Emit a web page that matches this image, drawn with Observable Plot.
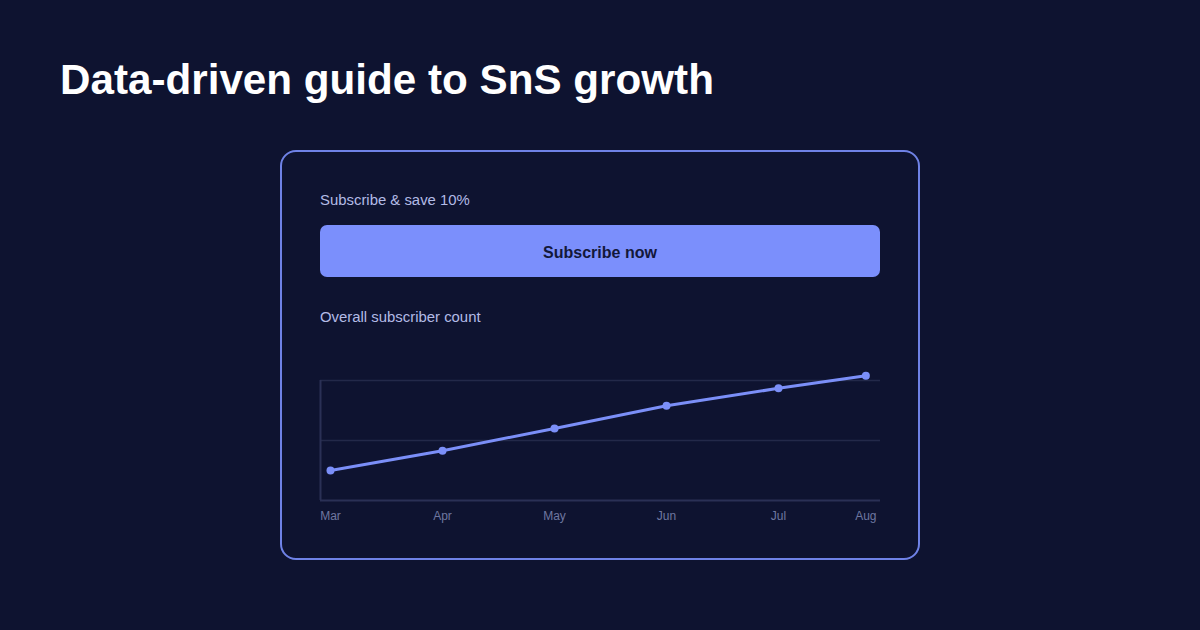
<!DOCTYPE html>
<html>
<head>
<meta charset="utf-8">
<script src="https://cdn.jsdelivr.net/npm/d3@7"></script>
<script src="https://cdn.jsdelivr.net/npm/@observablehq/plot@0.6"></script>
<style>
  html, body { margin: 0; padding: 0; }
  body {
    width: 1200px; height: 630px; overflow: hidden;
    background: #0e1330;
    font-family: "Liberation Sans", Arial, sans-serif;
    position: relative;
  }
  h1 {
    position: absolute; left: 60px; top: 56px; margin: 0;
    font-size: 42.2px; font-weight: 700; color: #ffffff; line-height: 48px;
  }
  .card {
    position: absolute; left: 280px; top: 150px;
    width: 640px; height: 410px;
    border: 2px solid #6f82e6; border-radius: 16px;
    box-sizing: border-box;
  }
  .offer {
    position: absolute; left: 38px; top: 40px;
    font-size: 14.9px; color: #b3bbe6;
  }
  .btn {
    position: absolute; left: 38px; top: 73px; width: 560px; height: 52px;
    background: #7b8ffc; border-radius: 7px;
    display: flex; align-items: center; justify-content: center;
    padding-top: 3px; box-sizing: border-box;
    font-size: 16px; font-weight: 700; color: #13183a;
  }
  .label2 {
    position: absolute; left: 38px; top: 157px;
    font-size: 14.9px; color: #b3bbe6;
  }
  #chart { position: absolute; left: 38px; top: 198px; }
  #chart svg { overflow: visible; }
</style>
</head>
<body>
<h1>Data-driven guide to SnS growth</h1>
<div class="card">
  <div class="offer">Subscribe &amp; save 10%</div>
  <div class="btn">Subscribe now</div>
  <div class="label2">Overall subscriber count</div>
  <div id="chart"></div>
</div>
<script>
const months = ["Mar", "Apr", "May", "Jun", "Jul", "Aug"];
const monthPos = [0, 1, 2, 3, 4, 4.78];
const subscribers = [500, 830, 1200, 1580, 1870, 2080];
const gridValues = [1000, 2000];

const data = months.map((m, i) => ({month: m, pos: monthPos[i], value: subscribers[i]}));

const lineColor = "#7b8ff8";
const gridColor = "#232949";

const chart = Plot.plot({
  width: 560,
  height: 190,
  marginLeft: 0,
  marginRight: 0,
  marginTop: 30,
  marginBottom: 40,
  style: { background: "transparent", fontFamily: "Liberation Sans, Arial, sans-serif", fontSize: "12px", overflow: "visible" },
  x: { type: "linear", domain: [-10 / 112, 550 / 112], axis: null },
  y: { domain: [0, 2000], axis: null },
  marks: [
    Plot.ruleY(gridValues, { stroke: gridColor, strokeWidth: 1.5 }),
    Plot.ruleY([0], { stroke: "#2a3055", strokeWidth: 2 }),
    Plot.ruleX([-10 / 112], { y1: 0, y2: 2000, stroke: "#2a3055", strokeWidth: 2 }),
    Plot.line(data, { x: "pos", y: "value", stroke: lineColor, strokeWidth: 3 }),
    Plot.dot(data, { x: "pos", y: "value", fill: lineColor, r: 4 }),
    Plot.text(data, { x: "pos", text: "month", frameAnchor: "bottom", dy: 19, fill: "#6e77a0", fontSize: 12 })
  ]
});
document.getElementById("chart").appendChild(chart);
</script>
</body>
</html>
